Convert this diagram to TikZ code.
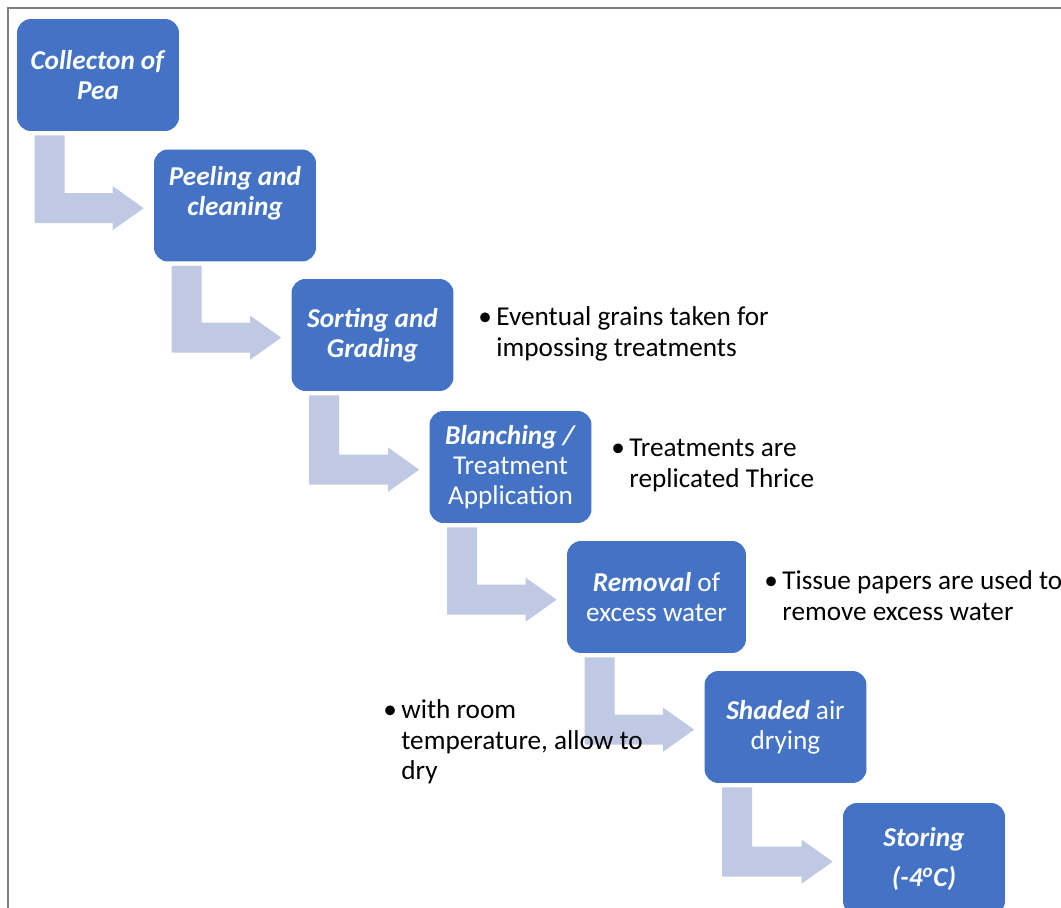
\documentclass[tikz,border=0pt]{standalone}
\usepackage{fontspec}
\setmainfont{Carlito}
\usetikzlibrary{calc}
\definecolor{peablue}{HTML}{4472C4}
\definecolor{pealight}{HTML}{C0C9E4}
\definecolor{peaframe}{HTML}{7F7F7F}
\tikzset{
  procbox/.style={fill=peablue, rounded corners=0.28cm, minimum width=3.24cm, minimum height=2.24cm,
    inner sep=0pt, align=center, text=white, font=\fontsize{15.5}{17.1}\selectfont},
  notetext/.style={anchor=west, inner sep=0pt, font=\fontsize{15.5}{17.1}\selectfont},
  bentarrow/.style={fill=pealight}
}
\newcommand{\bi}[1]{\textbf{\textit{#1}}}
\newcommand{\notelines}[1]{\begin{tabular}{@{}p{0.36cm}@{}l@{}}\textbullet & #1\end{tabular}}

\begin{document}
\begin{tikzpicture}[x=0.02cm, y=-0.02cm]
    \useasboundingbox (0,0) rectangle (1061,908);
    \clip (0,0) rectangle (1061,908);
    \draw[peaframe, line width=0.04cm] (8,908) -- (8,8) -- (1061,8);
    \node[procbox] (collect) at (98,75) {\bi{Collecton of}\\\bi{Pea}};
    \node[procbox] (peel) at (235,205.5) {\bi{Peeling and}\\\bi{cleaning}\\\mbox{}};
    \node[procbox] (sortg) at (372.5,335) {\bi{Sorting and}\\\bi{Grading}};
    \node[procbox] (blanch) at (510.5,467) {\bi{Blanching /}\\Treatment\\Application};
    \node[procbox, minimum width=3.58cm] (removal) at (656.5,597) {\bi{Removal} of\\excess water};
    \node[procbox] (shade) at (785.5,727) {\bi{Shaded} air\\drying};
    \node[procbox] (store) at (924,859) {\bi{Storing}\\[5.7pt]\bi{(-4\textsuperscript{o}C)}};
    \foreach \a/\b in {collect/peel,peel/sortg,sortg/blanch,blanch/removal,removal/shade,shade/store}
      \fill[bentarrow] ($(\a.south west)+(18,4)$) -- ++(30,0)
        -- ($(\a.south west |- \b.north west)+(48,44)$) -- ($(\b.north west)+(-41,44)$)
        -- ++(0,-7) -- ++(31,22) -- ++(-31,22) -- ++(0,-7)
        -- ($(\a.south west |- \b.north west)+(18,74)$) -- cycle;
    \node[notetext] (grains) at (478,335) {\notelines{Eventual grains taken for\\ & impossing treatments}};
    \node[notetext] (thrice) at (611,466) {\notelines{Treatments are\\ & replicated Thrice}};
    \node[notetext] (tissue) at (764,599) {\notelines{Tissue papers are used to\\ & remove excess water}};
    \node[notetext] (roomtemp) at (383,743) {\notelines{with room\\ & temperature, allow to\\ & dry}};
\end{tikzpicture}
\end{document}
